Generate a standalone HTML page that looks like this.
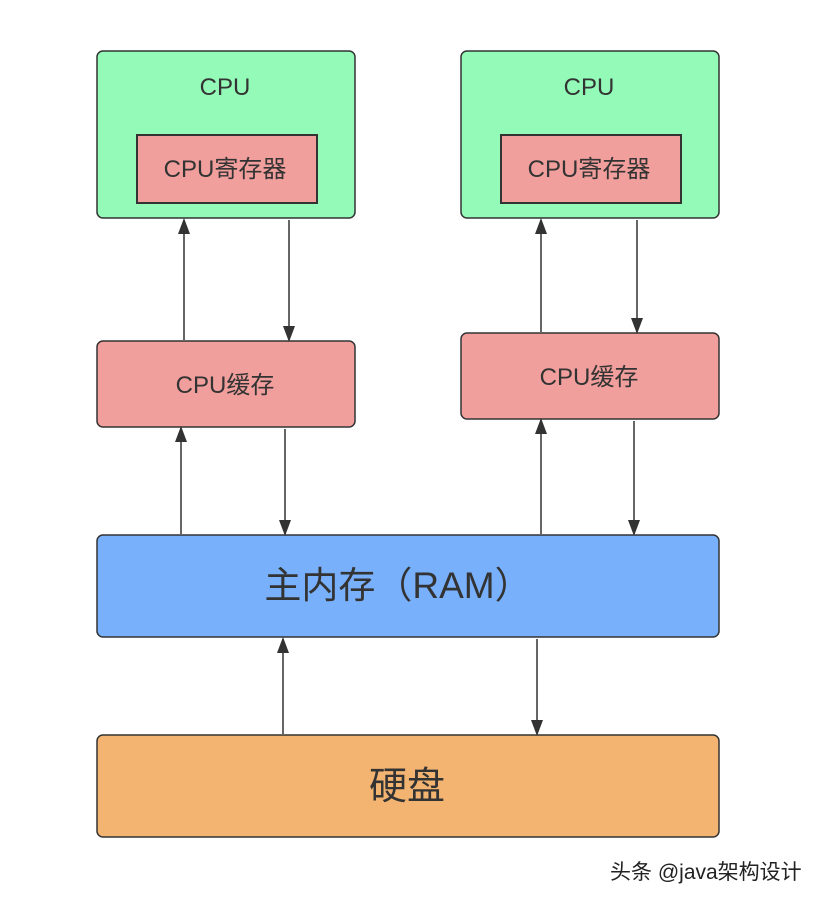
<!DOCTYPE html>
<html><head><meta charset="utf-8"><style>body{margin:0;background:#fff}svg{display:block}</style></head><body>
<svg width="822" height="900" xmlns="http://www.w3.org/2000/svg" font-family="Liberation Sans, Noto Sans CJK SC, sans-serif">
<defs><marker id="a" markerWidth="16" markerHeight="12" refX="14" refY="6" orient="auto" markerUnits="userSpaceOnUse" viewBox="0 0 16 12"><path d="M0,0 L16,6 L0,12 Z" fill="#333"/></marker></defs>
<g stroke="#333" stroke-width="1.5">
<rect x="97" y="51" width="258" height="167" rx="6" fill="#93fab8"/>
<rect x="137" y="135" width="180" height="68" fill="#f19f9c" stroke-width="2"/>
<rect x="461" y="51" width="258" height="167" rx="6" fill="#93fab8"/>
<rect x="501" y="135" width="180" height="68" fill="#f19f9c" stroke-width="2"/>
<rect x="97" y="341" width="258" height="86" rx="6" fill="#f19f9c"/>
<rect x="461" y="333" width="258" height="86" rx="6" fill="#f19f9c"/>
<rect x="97" y="535" width="622" height="102" rx="6" fill="#78b0fb"/>
<rect x="97" y="735" width="622" height="102" rx="6" fill="#f3b471"/>
</g>
<g stroke="#333" stroke-width="1.5" fill="none">
<line x1="184" y1="340" x2="184" y2="220" marker-end="url(#a)"/>
<line x1="289" y1="220" x2="289" y2="340" marker-end="url(#a)"/>
<line x1="181" y1="534" x2="181" y2="428" marker-end="url(#a)"/>
<line x1="285" y1="429" x2="285" y2="534" marker-end="url(#a)"/>
<line x1="541" y1="332" x2="541" y2="220" marker-end="url(#a)"/>
<line x1="637" y1="220" x2="637" y2="332" marker-end="url(#a)"/>
<line x1="541" y1="534" x2="541" y2="420" marker-end="url(#a)"/>
<line x1="634" y1="421" x2="634" y2="534" marker-end="url(#a)"/>
<line x1="283" y1="734" x2="283" y2="639" marker-end="url(#a)"/>
<line x1="537" y1="639" x2="537" y2="734" marker-end="url(#a)"/>
</g>
<g fill="#333" text-anchor="middle" font-size="24">
<text x="225" y="95">CPU</text>
<text x="589" y="95">CPU</text>
<text x="225" y="177">CPU寄存器</text>
<text x="589" y="177">CPU寄存器</text>
<text x="225" y="393">CPU缓存</text>
<text x="589" y="385">CPU缓存</text>
<text x="398" y="598" font-size="37">主内存（RAM）</text>
<text x="407" y="799" font-size="38">硬盘</text>
</g>
<text x="610" y="879" font-size="21" fill="#222">头条 @java架构设计</text>
</svg>
</body></html>
